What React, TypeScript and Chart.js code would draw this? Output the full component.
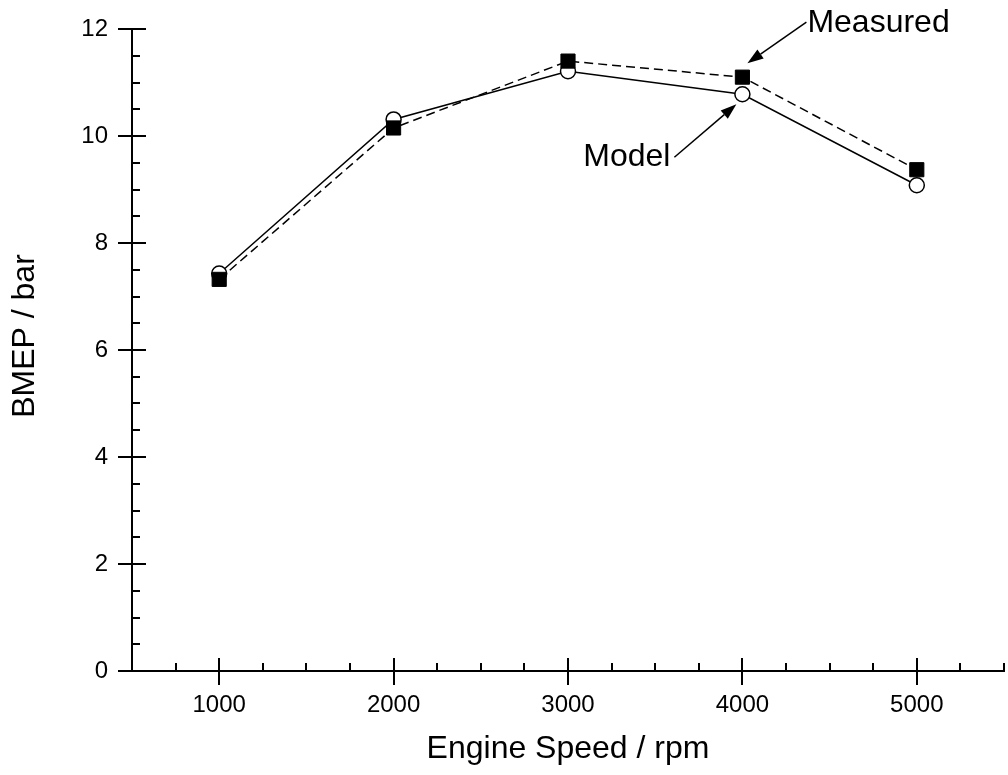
import React, { useEffect, useRef } from "react";
import { Chart, registerables } from "chart.js";

Chart.register(...registerables);

const speeds = [1000, 2000, 3000, 4000, 5000];
const modelBmep = [7.43, 10.31, 11.21, 10.78, 9.08];
const measuredBmep = [7.32, 10.15, 11.4, 11.1, 9.37];
const xTickValues = [1000, 2000, 3000, 4000, 5000];
const yTickValues = [0, 2, 4, 6, 8, 10, 12];

const FONT = '"Liberation Sans", Arial, Helvetica, sans-serif';

function drawArrow(ctx: CanvasRenderingContext2D, x1: number, y1: number, x2: number, y2: number) {
  const ang = Math.atan2(y2 - y1, x2 - x1);
  const headLen = 16;
  const headHalf = 5.5;
  const bx = x2 - headLen * Math.cos(ang);
  const by = y2 - headLen * Math.sin(ang);
  ctx.beginPath();
  ctx.moveTo(x1, y1);
  ctx.lineTo(bx, by);
  ctx.stroke();
  ctx.beginPath();
  ctx.moveTo(x2, y2);
  ctx.lineTo(bx + headHalf * Math.sin(ang), by - headHalf * Math.cos(ang));
  ctx.lineTo(bx - headHalf * Math.sin(ang), by + headHalf * Math.cos(ang));
  ctx.closePath();
  ctx.fill();
}

const zeroPadding = (scale: any) => {
  scale.paddingTop = 0;
  scale.paddingBottom = 0;
  scale.paddingLeft = 0;
  scale.paddingRight = 0;
};

const axesPlugin = {
  id: "originAxes",
  beforeDatasetsDraw(chart: any) {
    const ctx: CanvasRenderingContext2D = chart.ctx;
    const xs = chart.scales.x;
    const ys = chart.scales.y;
    const x0 = xs.getPixelForValue(xs.min);
    const x1 = xs.getPixelForValue(xs.max);
    const y0 = ys.getPixelForValue(ys.min);
    const y1 = ys.getPixelForValue(ys.max);
    ctx.save();
    ctx.strokeStyle = "#000";
    ctx.lineWidth = 2;
    ctx.lineCap = "butt";
    ctx.beginPath();
    ctx.moveTo(x0, y0 + 1);
    ctx.lineTo(x0, y1);
    ctx.moveTo(x0 - 1, y0);
    ctx.lineTo(x1 + 1, y0);
    for (let v = xs.min + 250; v <= xs.max + 0.001; v += 250) {
      const px = Math.round(xs.getPixelForValue(v));
      ctx.moveTo(px, y0);
      ctx.lineTo(px, y0 - 8);
    }
    xTickValues.forEach((v) => {
      const px = Math.round(xs.getPixelForValue(v));
      ctx.moveTo(px, y0 - 13);
      ctx.lineTo(px, y0 + 14);
    });
    for (let v = ys.min + 0.5; v <= ys.max + 0.001; v += 0.5) {
      const py = Math.round(ys.getPixelForValue(v));
      ctx.moveTo(x0, py);
      ctx.lineTo(x0 + 8, py);
    }
    yTickValues.forEach((v) => {
      const py = Math.round(ys.getPixelForValue(v));
      ctx.moveTo(x0 - 14, py);
      ctx.lineTo(x0 + 14, py);
    });
    ctx.stroke();

    ctx.fillStyle = "#000";
    ctx.font = `32px ${FONT}`;
    ctx.textAlign = "center";
    ctx.textBaseline = "middle";
    ctx.translate(25, (y0 + y1) / 2 - 14);
    ctx.rotate(-Math.PI / 2);
    ctx.fillText("BMEP / bar", 0, 0);
    ctx.restore();
  },
  afterDraw(chart: any) {
    const ctx: CanvasRenderingContext2D = chart.ctx;
    const xs = chart.scales.x;
    const ys = chart.scales.y;
    ctx.save();
    ctx.strokeStyle = "#000";
    ctx.fillStyle = "#000";
    ctx.lineWidth = 1.5;
    ctx.font = `32px ${FONT}`;
    ctx.textBaseline = "middle";

    const mx = xs.getPixelForValue(speeds[3]);
    const my = ys.getPixelForValue(measuredBmep[3]);
    drawArrow(ctx, mx + 64, my - 55, mx + 5, my - 14);
    ctx.textAlign = "left";
    ctx.fillText("Measured", mx + 65, my - 54);

    const qx = xs.getPixelForValue(speeds[3]);
    const qy = ys.getPixelForValue(modelBmep[3]);
    drawArrow(ctx, qx - 68, qy + 63, qx - 6, qy + 10);
    ctx.textAlign = "right";
    ctx.fillText("Model", qx - 72, qy + 63);
    ctx.restore();
  },
};

export default function App() {
  const ref = useRef<HTMLCanvasElement>(null);
  useEffect(() => {
    if (!ref.current) return;
    const chart = new Chart(ref.current, {
      type: "line",
      data: {
        labels: speeds,
        datasets: [
          {
            label: "Measured",
            data: speeds.map((s, i) => ({ x: s, y: measuredBmep[i] })),
            borderColor: "#000",
            borderWidth: 1.5,
            borderDash: [9, 5],
            pointStyle: "rect",
            pointRadius: 10,
            pointBackgroundColor: "#000",
            pointBorderColor: "#000",
            pointBorderWidth: 1,
            fill: false,
            tension: 0,
          },
          {
            label: "Model",
            data: speeds.map((s, i) => ({ x: s, y: modelBmep[i] })),
            borderColor: "#000",
            borderWidth: 1.5,
            pointStyle: "circle",
            pointRadius: 7.5,
            pointBackgroundColor: "#fff",
            pointBorderColor: "#000",
            pointBorderWidth: 1.5,
            fill: false,
            tension: 0,
          },
        ],
      },
      options: {
        animation: false,
        responsive: false,
        layout: { autoPadding: false, padding: { top: 29, right: 4, left: 0, bottom: 0 } },
        plugins: { legend: { display: false }, tooltip: { enabled: false } },
        scales: {
          x: {
            type: "linear",
            min: 500,
            max: 5500,
            afterBuildTicks: (scale: any) => {
              scale.ticks = xTickValues.map((v) => ({ value: v }));
            },
            afterFit: (scale: any) => {
              scale.height = 104;
              zeroPadding(scale);
            },
            grid: { display: false, drawTicks: false },
            border: { display: false },
            ticks: {
              color: "#000",
              font: { family: FONT, size: 24 },
              padding: 20,
              maxRotation: 0,
              autoSkip: false,
              callback: (v: any) => String(v),
            },
            title: {
              display: true,
              text: "Engine Speed / rpm",
              color: "#000",
              font: { family: FONT, size: 32 },
              padding: { top: 0, bottom: 7 },
            },
          },
          y: {
            type: "linear",
            min: 0,
            max: 12,
            afterBuildTicks: (scale: any) => {
              scale.ticks = yTickValues.map((v) => ({ value: v }));
            },
            afterFit: (scale: any) => {
              scale.width = 132;
              zeroPadding(scale);
            },
            grid: { display: false, drawTicks: false },
            border: { display: false },
            ticks: {
              color: "#000",
              font: { family: FONT, size: 24 },
              padding: 24,
              autoSkip: false,
            },
          },
        },
      },
      plugins: [axesPlugin],
    } as any);
    return () => chart.destroy();
  }, []);
  return (
    <div style={{ position: "absolute", left: 0, top: 0, width: 1008, height: 775, background: "#fff" }}>
      <canvas ref={ref} width={1008} height={775} style={{ display: "block" }} />
    </div>
  );
}
